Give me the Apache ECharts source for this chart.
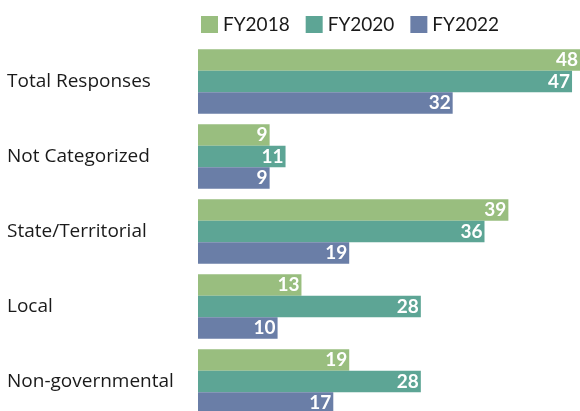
<!DOCTYPE html>
<html>
<head>
<meta charset="utf-8">
<script src="https://cdn.jsdelivr.net/npm/echarts@6/dist/echarts.min.js"></script>
<style>
  html, body { margin: 0; padding: 0; background: #fff; }
  #main { width: 580px; height: 411px; }
</style>
</head>
<body>
<div id="main"></div>
<script>
var categories = ['Total Responses', 'Not Categorized', 'State/Territorial', 'Local', 'Non-governmental'];
var seriesNames = ['FY2018', 'FY2020', 'FY2022'];
var fy2018 = [48, 9, 39, 13, 19];
var fy2020 = [47, 11, 36, 28, 28];
var fy2022 = [32, 9, 19, 10, 17];

var colors = ['#99be7f', '#5da595', '#6a7ea7'];
var fontFamily = 'Lato, "Open Sans", sans-serif';

function makeSeries(name, data) {
  return {
    name: name,
    type: 'bar',
    data: data,
    barGap: '0%',
    barCategoryGap: '14%',
    silent: true,
    label: {
      show: true,
      position: 'insideRight',
      distance: 2,
      color: '#fff',
      fontWeight: 'bold',
      fontSize: 19,
      fontFamily: fontFamily
    }
  };
}

var chart = echarts.init(document.getElementById('main'), null, { renderer: 'canvas' });

var option = {
  animation: false,
  color: colors,
  legend: {
    left: 196,
    top: 10,
    itemWidth: 17,
    itemHeight: 17,
    itemGap: 16,
    icon: 'rect',
    textStyle: { fontSize: 19, color: '#1a1a1a', fontFamily: fontFamily }
  },
  grid: { left: 198, right: 0, top: 44, height: 375, outerBoundsMode: 'none', containLabel: false },
  xAxis: {
    type: 'value',
    min: 0,
    max: 48,
    show: false
  },
  yAxis: {
    type: 'category',
    inverse: true,
    data: categories,
    axisLine: { show: false },
    axisTick: { show: false },
    axisLabel: {
      align: 'left',
      margin: 191,
      fontSize: 19,
      color: '#1a1a1a',
      fontFamily: '"Open Sans", sans-serif'
    }
  },
  series: [
    makeSeries(seriesNames[0], fy2018),
    makeSeries(seriesNames[1], fy2020),
    makeSeries(seriesNames[2], fy2022)
  ]
};

chart.setOption(option);
</script>
</body>
</html>
